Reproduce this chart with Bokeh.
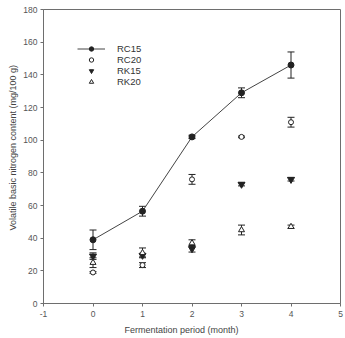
from bokeh.plotting import figure
from bokeh.models import (ColumnDataSource, Whisker, TeeHead, Legend, LegendItem,
                          FixedTicker, Range1d, Title)
from bokeh.embed import file_html
from bokeh.resources import INLINE

months = [0, 1, 2, 3, 4]

rc15 = [39, 56.5, 102, 129, 146]
rc15_err = [6, 3, 1, 3, 8]
rc20 = [19, 23.5, 76, 102, 111]
rc20_err = [0.5, 1.5, 3, 0.5, 3]
rk15 = [29, 29.5, 33.5, 73, 76]
rk15_err = [2, 1, 2, 1, 1]
rk20 = [25, 31, 37, 45, 47]
rk20_err = [3, 3, 2, 3, 1]

FONT = "Liberation Sans"
INK = "#222222"
AXIS = "#6e6e6e"

p = figure(width=345, height=338, output_backend="svg", toolbar_location=None,
           x_range=Range1d(-1, 5), y_range=Range1d(0, 180),
           min_border_left=43, min_border_right=5, min_border_top=9,
           min_border_bottom=35)
p.grid.visible = False
p.outline_line_color = AXIS
p.outline_line_width = 1
p.background_fill_color = "white"
p.border_fill_color = "white"

p.xaxis.ticker = FixedTicker(ticks=[-1, 0, 1, 2, 3, 4, 5])
p.xaxis.major_label_overrides = {-1: "-1"}
p.yaxis.ticker = FixedTicker(ticks=list(range(0, 181, 20)))
for ax in (p.xaxis[0], p.yaxis[0]):
    ax.axis_line_color = AXIS
    ax.major_tick_line_color = AXIS
    ax.major_tick_in = 0
    ax.major_tick_out = 3
    ax.minor_tick_line_color = None
    ax.major_label_text_font = FONT
    ax.major_label_text_font_size = "8.5px"
    ax.major_label_text_color = "#555555"
p.xaxis.major_label_standoff = 4
p.yaxis.major_label_standoff = 3

# Axis titles as side titles, offset from the start of the frame
p.add_layout(Title(text="Fermentation period (month)", align="left", offset=81,
                   text_font=FONT, text_font_size="9px", text_color="#444444",
                   text_font_style="normal", standoff=6), "below")
p.add_layout(Title(text="Volatile basic nitrogen content (mg/100 g)", align="left",
                   offset=73, text_font=FONT, text_font_size="9px",
                   text_color="#444444", text_font_style="normal", standoff=6),
             "left")


def series(y, err):
    return ColumnDataSource(dict(x=months, y=y,
                                 lo=[a - e for a, e in zip(y, err)],
                                 hi=[a + e for a, e in zip(y, err)]))


def add_err(src):
    w = Whisker(base="x", upper="hi", lower="lo", source=src,
                line_color=INK, line_width=1,
                upper_head=TeeHead(size=7, line_color=INK, line_width=1),
                lower_head=TeeHead(size=7, line_color=INK, line_width=1))
    p.add_layout(w)


s_rc15 = series(rc15, rc15_err)
s_rc20 = series(rc20, rc20_err)
s_rk15 = series(rk15, rk15_err)
s_rk20 = series(rk20, rk20_err)
for s in (s_rc15, s_rc20, s_rk15, s_rk20):
    add_err(s)

l_rc15 = p.line("x", "y", source=s_rc15, line_color="#444444", line_width=1)
m_rc15 = p.scatter("x", "y", source=s_rc15, marker="circle", size=6,
                   fill_color=INK, line_color=INK)
m_rc20 = p.scatter("x", "y", source=s_rc20, marker="circle", size=5,
                   fill_color="white", line_color=INK, line_width=1)
m_rk15 = p.scatter("x", "y", source=s_rk15, marker="inverted_triangle", size=7,
                   fill_color=INK, line_color=INK)
m_rk20 = p.scatter("x", "y", source=s_rk20, marker="triangle", size=6,
                   fill_color="white", line_color=INK, line_width=1)

legend = Legend(items=[
    LegendItem(label="RC15", renderers=[l_rc15, m_rc15]),
    LegendItem(label="RC20", renderers=[m_rc20]),
    LegendItem(label="RK15", renderers=[m_rk15]),
    LegendItem(label="RK20", renderers=[m_rk20]),
], location=(34, 216))
legend.background_fill_alpha = 0
legend.border_line_color = None
legend.label_text_font = FONT
legend.label_text_font_size = "9.5px"
legend.label_text_color = "#333333"
legend.glyph_width = 28
legend.glyph_height = 11
legend.label_height = 11
legend.spacing = 0
legend.padding = 0
legend.margin = 0
legend.label_standoff = 12
p.add_layout(legend)

open("out.html", "w").write(file_html(p, INLINE))
